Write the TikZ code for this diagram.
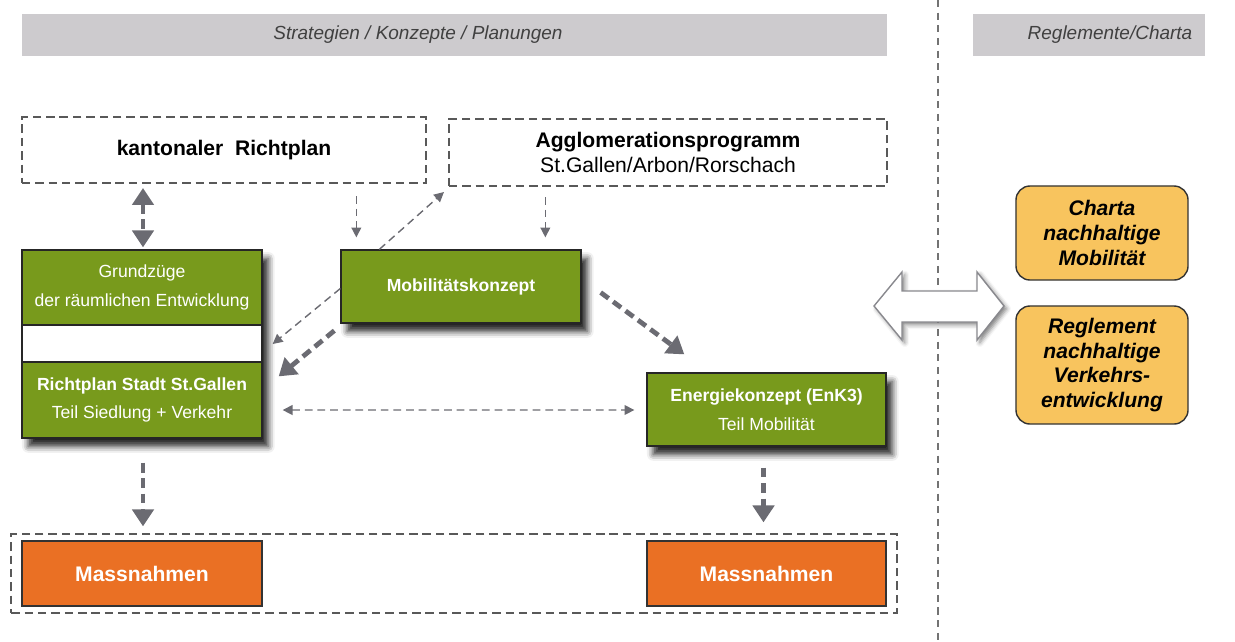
\documentclass[tikz,border=0pt]{standalone}
\usepackage{fontspec}
\setmainfont{Liberation Sans}
\usetikzlibrary{arrows.meta,calc,fit,shadows.blur}

\definecolor{rgreen}{HTML}{789A1C}
\definecolor{rorange}{HTML}{EA7024}
\definecolor{ryellow}{HTML}{F8C45E}
\definecolor{rgray}{HTML}{6B6B72}
\definecolor{rbar}{HTML}{CDCBCE}

\tikzset{
  framebox/.style={draw=black!65, line width=1.4pt, dash pattern=on 6pt off 3.5pt, align=center},
  greenbox/.style={draw=black!85, line width=0.9pt, fill=rgreen, text=white, minimum width=6cm, align=center, font=\fontsize{12.5}{20.5}\selectfont},
  massbox/.style={draw=black!80, line width=0.9pt, fill=rorange, text=white, minimum width=6cm, minimum height=1.625cm, font=\fontsize{15}{18}\selectfont\bfseries},
  chartabox/.style={draw=black!80, line width=1pt, fill=ryellow, rounded corners=10pt, minimum width=4.3cm, align=center, font=\fontsize{15}{17.7}\selectfont\bfseries\itshape},
  barbox/.style={fill=rbar, minimum height=1.05cm},
  bartext/.style={text=black!75, font=\fontsize{13.5}{16}\selectfont\itshape},
  softshadow/.style={blur shadow={shadow xshift=4.5pt, shadow yshift=-6pt, shadow blur radius=4.5pt, shadow opacity=85}},
  thinarrow/.style={draw=rgray, line width=1pt, dash pattern=on 5.5pt off 3.5pt, -{Triangle[width=7pt,length=7pt]}},
  thickarrow/.style={draw=rgray, line width=3.4pt, dash pattern=on 7pt off 4pt, -{Triangle[width=15pt,length=12pt]}}
}

\begin{document}
\begin{tikzpicture}[x=0.025cm, y=-0.025cm]
  \useasboundingbox (0,0) rectangle (1235,641);

  % headers
  \node[barbox, minimum width=21.625cm] (barleft) at (454.5,35) {};
  \node[bartext] (barlefttext) at (418,35) {Strategien / Konzepte / Planungen};
  \node[barbox, minimum width=5.8cm] (barright) at (1089,35) {};
  \node[bartext] (barrighttext) at (1110,35) {Reglemente/Charta};

  \draw[black!55, line width=0.8pt, dash pattern=on 5pt off 4pt] (938,0) -- (938,641);

  % upper level
  \node[framebox, minimum width=10.1cm, minimum height=1.65cm, font=\fontsize{15}{18}\selectfont\bfseries] (kant) at (224,150) {kantonaler~ Richtplan};
  \node[framebox, minimum width=10.95cm, minimum height=1.675cm, font=\fontsize{15}{17.7}\selectfont] (agglo) at (668,152.5) {\textbf{Agglomerationsprogramm}\\St.Gallen/Arbon/Rorschach};

  % city level
  \node[draw=black!85, line width=0.9pt, fill=white, minimum width=6cm, minimum height=4.7cm, softshadow] (stack) at (142,344) {};
  \node[greenbox, minimum height=1.875cm, anchor=north] (grund) at (stack.north) {Grundzüge\\der räumlichen Entwicklung};
  \node[greenbox, minimum height=1.9cm, anchor=south] (richt) at (stack.south) {\textbf{Richtplan Stadt St.Gallen}\\Teil Siedlung + Verkehr};
  \node[greenbox, minimum height=1.825cm, softshadow, font=\fontsize{12.5}{20.5}\selectfont\bfseries] (mobil) at (461,286.5) {Mobilitätskonzept};
  \node[greenbox, minimum width=5.975cm, minimum height=1.825cm, softshadow] (energie) at (766.5,409.5) {\textbf{Energiekonzept (EnK3)}\\Teil Mobilität};

  % measures
  \node[massbox] (massleft) at (142,573.5) {Massnahmen};
  \node[massbox, minimum width=5.975cm] (massright) at (766.5,573.5) {Massnahmen};
  \node[framebox, fit=(massleft)(massright), inner xsep=0.25cm, inner ysep=0.15cm] (massgroup) {};

  % charta
  \node[chartabox, minimum height=2.35cm] (charta) at (1102,233) {Charta\\nachhaltige\\Mobilität};
  \node[chartabox, minimum height=2.95cm] (reglement) at (1102,365) {Reglement\\nachhaltige\\Verkehrs-\\entwicklung};

  \draw[rgray!80, fill=white, line width=1pt, blur shadow={shadow xshift=2pt, shadow yshift=-2pt, shadow blur radius=3pt, shadow opacity=50}]
    (874,306) -- (902,272) -- (902,291) -- (977,291) -- (977,272) -- (1004,306)
    -- (977,340) -- (977,322) -- (902,322) -- (902,340) -- cycle;

  % connectors
  \draw[thickarrow, {Triangle[width=15pt,length=12pt]}-{Triangle[width=15pt,length=12pt]}] ($(kant.south)+(-81,4)$) -- ($(grund.north)+(1,-2)$);
  \draw[thinarrow] ($(kant.south -| mobil.west)+(16,12)$) -- ($(mobil.north west)+(16,-12)$);
  \draw[thinarrow] ($(agglo.south -| mobil.west)+(205,10)$) -- ($(mobil.north west)+(205,-12)$);
  \draw[thinarrow] ($(mobil.north west)+(39,0)$) -- ($(agglo.south west)+(-4,5)$);
  \draw[thinarrow] ($(mobil.west)+(0,2)$) -- ($(stack.east)+(10,0)$);
  \draw[thickarrow] ($(mobil.south west)+(-6,7)$) -- ($(richt.north east)+(16,15)$);
  \draw[thickarrow] ($(mobil.east)+(19,6)$) -- ($(energie.north west)+(38,-18)$);
  \draw[thinarrow, {Triangle[width=7pt,length=7pt]}-{Triangle[width=7pt,length=7pt]}] ($(richt.east)+(20,10)$) -- ($(energie.west)+(-12,0.5)$);
  \draw[thickarrow] ($(stack.south)+(1,24)$) -- ($(massleft.north)+(1,-14)$);
  \draw[thickarrow] ($(energie.south)+(-3,21)$) -- ($(massright.north)+(-3,-18)$);
\end{tikzpicture}
\end{document}
